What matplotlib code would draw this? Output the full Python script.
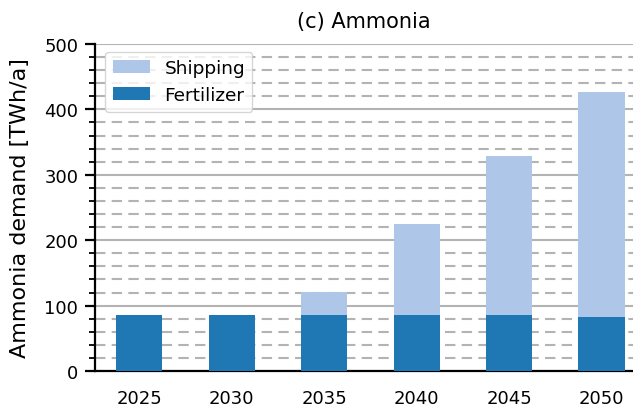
import matplotlib
matplotlib.use("Agg")
import matplotlib.pyplot as plt
import numpy as np

years = ["2025", "2030", "2035", "2040", "2045", "2050"]
fertilizer = [85, 85, 85, 85, 85, 83]
shipping = [0, 0, 36, 140, 244, 344]

fig = plt.figure(figsize=(6.33, 4.10), dpi=100)
ax = fig.add_axes([95/633, 38/410, (633-95)/633, (372-45)/410])

x = np.arange(len(years))
ax.bar(x, fertilizer, width=0.5, color="#1f77b4", label="Fertilizer", zorder=3)
ax.bar(x, shipping, width=0.5, bottom=fertilizer, color="#aec7e8", label="Shipping", zorder=3)

ax.set_ylim(0, 500)
ax.set_xlim(-0.48, 5.34)
ax.set_yticks(np.arange(0, 501, 100))
ax.set_yticks(np.arange(0, 501, 20), minor=True)
ax.set_xticks(x)
ax.set_xticklabels(years)
ax.grid(axis="y", which="major", color="#b3b3b3", linestyle="-", linewidth=1.5, zorder=0)
ax.grid(axis="y", which="minor", color="#b3b3b3", linestyle=(0, (5, 3)), linewidth=1.5, zorder=0)
ax.set_axisbelow(True)
for s in ["top", "right"]:
    ax.spines[s].set_visible(False)
ax.spines["left"].set_linewidth(1.6)
ax.spines["bottom"].set_linewidth(1.6)
ax.tick_params(axis="both", labelsize=13, width=1.6, length=7)
ax.tick_params(axis="y", which="major", pad=5)
ax.tick_params(axis="y", which="minor", width=1.3, length=4)
ax.tick_params(axis="x", length=0, pad=13)
ax.set_ylabel("Ammonia demand [TWh/a]", fontsize=16, labelpad=10)
ax.set_title("(c) Ammonia", fontsize=15, pad=12)

h, l = ax.get_legend_handles_labels()
ax.legend(h[::-1], l[::-1], loc="upper left", fontsize=13.3, bbox_to_anchor=(0.002, 1.005), framealpha=0.8)

fig.savefig("out.png", dpi=100)
